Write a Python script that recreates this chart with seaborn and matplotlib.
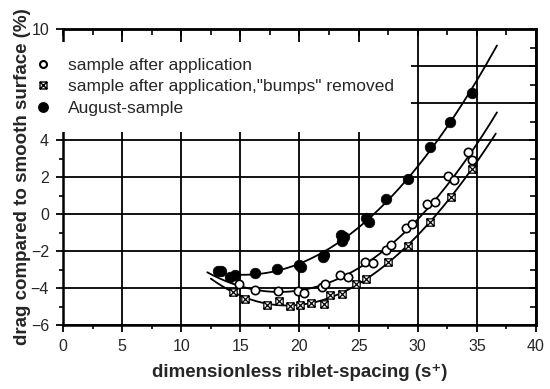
import numpy as np
import seaborn as sns
import matplotlib
matplotlib.use("Agg")
import matplotlib.pyplot as plt
from matplotlib.patches import Rectangle
from matplotlib.path import Path
from matplotlib.lines import Line2D
from matplotlib.ticker import MultipleLocator

# sample after application (open circles)
open_x = [14.85, 16.25, 18.2, 19.9, 20.35, 21.9, 22.2, 23.4, 24.1, 25.5, 26.2,
          27.3, 27.75, 29.05, 29.55, 30.8, 31.45, 32.6, 33.1, 34.25, 34.6]
open_y = [-3.77, -4.1, -4.15, -4.17, -4.28, -3.96, -3.78, -3.29, -3.38, -2.57, -2.66,
          -1.97, -1.66, -0.78, -0.53, 0.56, 0.65, 2.05, 1.85, 3.34, 2.9]

# sample after application, "bumps" removed (crossed squares)
bumps_x = [14.4, 15.4, 17.25, 18.25, 19.2, 20.05, 21.0, 22.05, 22.6, 23.6, 24.8,
           25.65, 27.5, 29.2, 31.0, 32.8, 34.6]
bumps_y = [-4.19, -4.6, -4.92, -4.68, -4.97, -4.92, -4.83, -4.86, -4.37, -4.32, -3.78,
           -3.52, -2.57, -1.72, -0.45, 0.93, 2.45]

# August-sample (filled circles)
aug_x = [13.1, 13.4, 14.1, 14.55, 16.25, 18.1, 20.0, 20.1, 22.0, 22.1, 23.5, 23.6,
         23.8, 25.6, 25.9, 27.3, 29.2, 31.0, 32.7, 34.55]
aug_y = [-3.06, -3.06, -3.41, -3.29, -3.2, -2.98, -2.78, -2.85, -2.3, -2.2, -1.15, -1.45,
         -1.25, -0.2, -0.45, 0.81, 1.88, 3.63, 4.97, 6.52]

labels = ['sample after application',
          'sample after application,"bumps" removed',
          'August-sample']

# x-range of each fitted curve and polynomial degree
open_fit = (12.2, 36.7, 2)
bumps_fit = (12.5, 36.6, 3)
aug_fit = (14.0, 36.7, 2)

sns.set_theme(style="white")
plt.rcParams['font.family'] = ['Liberation Sans', 'DejaVu Sans']

fig, ax = plt.subplots(figsize=(5.5, 3.89), dpi=100)
fig.subplots_adjust(left=0.1145, right=0.9745, top=0.9254, bottom=0.1645)
ax.set_axisbelow(True)

# crossed-square marker
box = Path([(-1, -1), (1, -1), (1, 1), (-1, 1), (-1, -1),
            (-1, -1), (1, 1), (-1, 1), (1, -1)],
           [Path.MOVETO, Path.LINETO, Path.LINETO, Path.LINETO, Path.CLOSEPOLY,
            Path.MOVETO, Path.LINETO, Path.MOVETO, Path.LINETO])


def fit_line(xs, ys, spec):
    x0, x1, deg = spec
    coef = np.polyfit(xs, ys, deg)
    xx = np.linspace(x0, x1, 200)
    sns.lineplot(x=xx, y=np.polyval(coef, xx), color='black', lw=1.3,
                 ax=ax, zorder=2.6, sort=False)


fit_line(open_x, open_y, open_fit)
fit_line(bumps_x, bumps_y, bumps_fit)
fit_line(aug_x, aug_y, aug_fit)

sns.scatterplot(x=open_x, y=open_y, marker='o', s=36, facecolor='white',
                edgecolor='black', linewidth=1.2, ax=ax, zorder=4)
sns.scatterplot(x=bumps_x, y=bumps_y, marker=box, s=28, facecolor='white',
                edgecolor='black', linewidth=0.9, ax=ax, zorder=4)
sns.scatterplot(x=aug_x, y=aug_y, marker='o', s=58, color='black',
                edgecolor='black', linewidth=0.5, ax=ax, zorder=4)

ax.set_xlim(0, 40)
ax.set_ylim(-6, 10)
ax.xaxis.set_major_locator(MultipleLocator(5))
ax.xaxis.set_minor_locator(MultipleLocator(2.5))
ax.yaxis.set_major_locator(MultipleLocator(2))
ax.yaxis.set_minor_locator(MultipleLocator(1))
ax.grid(True, which='major', color='black', lw=1.3)
ax.tick_params(which='major', direction='out', length=5, width=1.3,
               labelsize=11.5, color='black', pad=5)
ax.tick_params(which='minor', direction='out', length=3, width=1.2, color='black')
ax.tick_params(axis='both', which='both', bottom=True, left=True)
for s in ax.spines.values():
    s.set_color('black')
    s.set_linewidth(1.8)

# mirrored ticks pointing inward on top / right
top = ax.secondary_xaxis('top')
top.xaxis.set_major_locator(MultipleLocator(5))
top.xaxis.set_minor_locator(MultipleLocator(2.5))
right = ax.secondary_yaxis('right')
right.yaxis.set_major_locator(MultipleLocator(2))
right.yaxis.set_minor_locator(MultipleLocator(1))
for sec in (top, right):
    sec.tick_params(which='both', direction='in', width=1.2, color='black',
                    labeltop=False, labelright=False)
    sec.tick_params(which='minor', length=4)
    sec.tick_params(which='major', length=5)
    for s in sec.spines.values():
        s.set_linewidth(1.8)

ax.set_xlabel('dimensionless riblet-spacing (s\u207a)', fontsize=13.5,
              fontweight='bold', labelpad=7)
ax.set_ylabel('drag compared to smooth surface (%)', fontsize=13.5,
              fontweight='bold', labelpad=0)

# white area behind the legend
ax.add_patch(Rectangle((-2.4, 4.45), 31.85, 4.83, facecolor='white',
                       edgecolor='none', zorder=3, clip_on=False))

handles = [
    Line2D([], [], ls='none', marker='o', ms=5, mfc='white', mec='black', mew=1.5),
    Line2D([], [], ls='none', marker=box, ms=5, mfc='white', mec='black', mew=1.0),
    Line2D([], [], ls='none', marker='o', ms=6.8, mfc='black', mec='black'),
]
leg = ax.legend(handles, labels, loc='upper left', bbox_to_anchor=(-0.06, 0.902),
                frameon=False, fontsize=12.5, borderpad=0, handlelength=1.0,
                handletextpad=0.95, labelspacing=0.35, borderaxespad=0)
leg.set_zorder(6)

fig.savefig('out.png', dpi=100, facecolor='white')
